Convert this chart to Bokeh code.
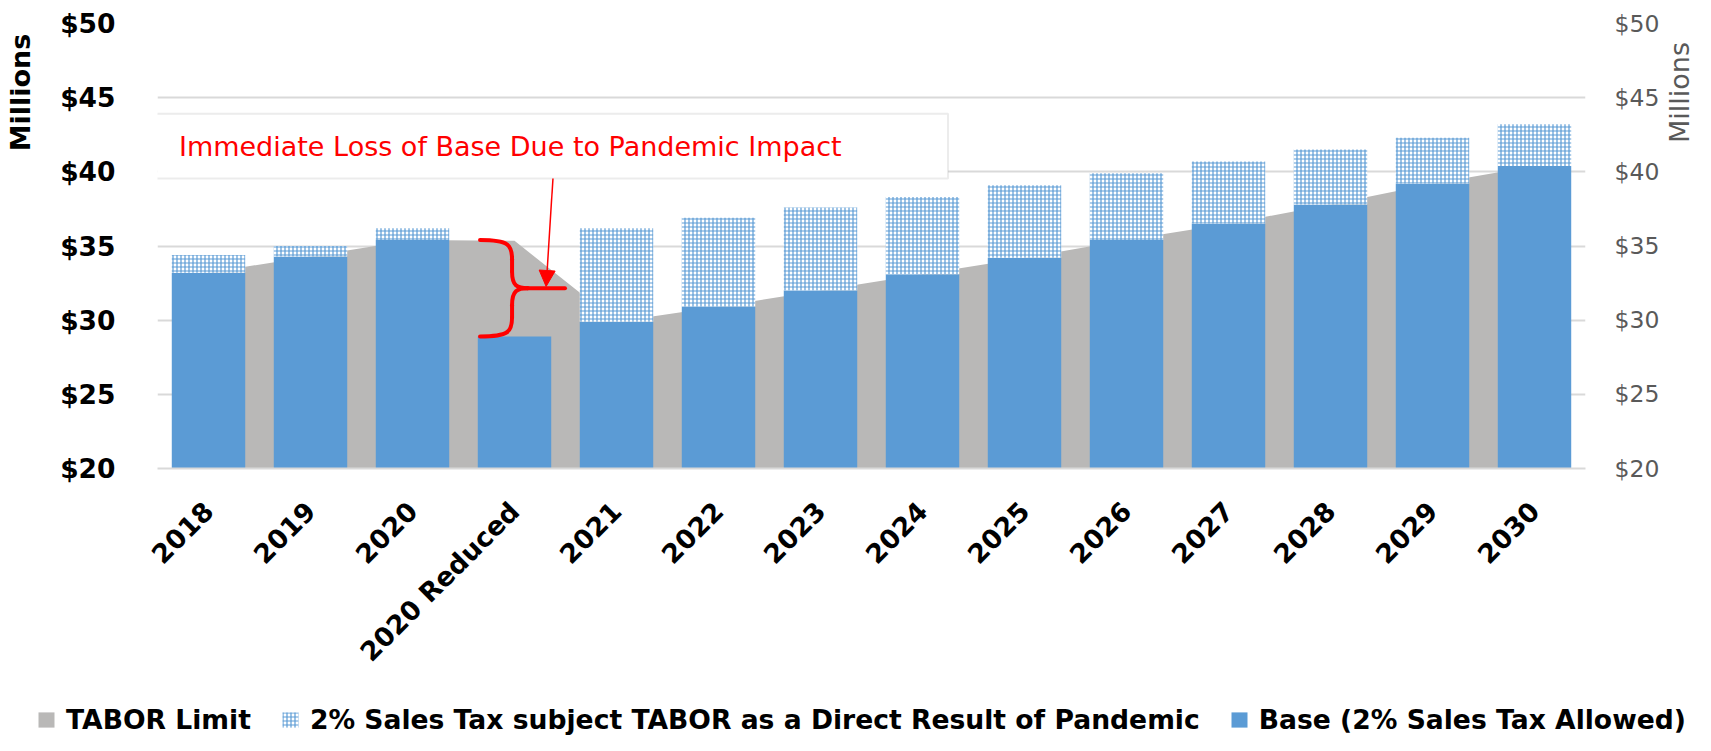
import math
from bokeh.plotting import figure
from bokeh.layouts import row
from bokeh.models import (Range1d, LinearAxis, FixedTicker, NumeralTickFormatter, Legend,
                          LegendItem, Label, BoxAnnotation, Arrow, NormalHead)
from bokeh.embed import file_html
from bokeh.resources import INLINE

# ---------------- data ----------------
categories = ["2018", "2019", "2020", "2020 Reduced", "2021", "2022", "2023", "2024",
              "2025", "2026", "2027", "2028", "2029", "2030"]
base = [33.2, 34.3, 35.4, 28.9, 29.9, 30.9, 32.0, 33.1, 34.2, 35.4, 36.5, 37.8, 39.2, 40.4]
pandemic = [1.2, 0.7, 0.8, 0.0, 6.3, 6.0, 5.6, 5.2, 4.9, 4.5, 4.2, 3.7, 3.1, 2.8]
tabor = [33.2, 34.3, 35.4, 35.35, 29.9, 30.9, 32.0, 33.1, 34.2, 35.4, 36.5, 37.8, 39.2, 40.4]
y_ticks = [20, 25, 30, 35, 40, 45, 50]
series_names = ["TABOR Limit",
                "2% Sales Tax subject TABOR as a Direct Result of Pandemic",
                "Base (2% Sales Tax Allowed)"]
annotation_text = "Immediate Loss of Base Due to Pandemic Impact"
axis_title = "Millions"

Y_MIN, Y_MAX = 20, 50
xs = list(range(len(categories)))
total = [b + q for b, q in zip(base, pandemic)]

BLUE = "#5b9bd5"
GRAY = "#b9b8b7"
GRID = "#d9d9d9"
FONT = "DejaVu Sans"
RED = "#ff0000"
NAN = float("nan")

W_LEFT, W_RIGHT, W_ALL = 38, 33, 1695
H_MAIN, H_LEG = 686, 49
BORDER_TOP, BORDER_BOTTOM = 23, H_MAIN - 468

def bare(fig):
    fig.outline_line_color = None
    fig.xgrid.visible = False
    fig.ygrid.visible = False
    return fig

p = figure(width=W_ALL - W_LEFT - W_RIGHT, height=H_MAIN, output_backend="svg",
           toolbar_location=None,
           x_range=Range1d(-0.5, len(categories) - 0.5), y_range=Range1d(Y_MIN, Y_MAX),
           min_border_left=157 - W_LEFT, min_border_right=(W_ALL - W_RIGHT) - 1588,
           min_border_top=BORDER_TOP, min_border_bottom=BORDER_BOTTOM)
p.outline_line_color = None
p.background_fill_color = "white"

area_style = dict(fill_color=GRAY)
base_style = dict(fill_color=BLUE, line_color=None)
pand_style = dict(fill_color="white", line_color=None, hatch_pattern="+", hatch_color=BLUE,
                  hatch_scale=4, hatch_weight=1.2)
p.varea(x=xs, y1=[Y_MIN] * len(xs), y2=tabor, **area_style)
p.vbar(x=xs, width=0.72, bottom=Y_MIN, top=base, **base_style)
p.vbar(x=xs, width=0.72, bottom=base, top=total, **pand_style)

# axes
ticker = FixedTicker(ticks=y_ticks)
yax = p.yaxis[0]
yax.ticker = ticker
yax.formatter = NumeralTickFormatter(format="$0")
yax.axis_line_color = None
yax.major_tick_line_color = None
yax.minor_tick_line_color = None
yax.major_tick_out = 0
yax.major_label_standoff = 42
yax.major_label_text_font = FONT
yax.major_label_text_font_style = "bold"
yax.major_label_text_font_size = "26.5px"
yax.major_label_text_color = "black"

rax = LinearAxis(ticker=ticker, formatter=NumeralTickFormatter(format="$0"))
rax.axis_line_color = None
rax.major_tick_line_color = None
rax.minor_tick_line_color = None
rax.major_tick_out = 0
rax.major_label_standoff = 29
rax.major_label_text_font = FONT
rax.major_label_text_font_size = "23.5px"
rax.major_label_text_color = "#595959"
p.add_layout(rax, "right")

xax = p.xaxis[0]
xax.ticker = FixedTicker(ticks=xs)
xax.major_label_overrides = {i: c for i, c in zip(xs, categories)}
xax.major_label_orientation = math.pi / 4
xax.axis_line_color = GRID
xax.axis_line_width = 2
xax.major_tick_line_color = None
xax.minor_tick_line_color = None
xax.major_tick_out = 0
xax.major_label_standoff = 38
xax.major_label_text_font = FONT
xax.major_label_text_font_style = "bold"
xax.major_label_text_font_size = "26.5px"
xax.major_label_text_color = "black"

p.xgrid.visible = False
p.ygrid.ticker = ticker
p.ygrid.grid_line_color = GRID
p.ygrid.grid_line_width = 2

# annotation box + text
p.add_layout(BoxAnnotation(left=-0.53, right=7.25, top=43.92, bottom=39.55, fill_color="white",
                           fill_alpha=1, line_color="#bfbfbf", line_width=2))
p.add_layout(Label(x=-0.29, y=41.73, text=annotation_text, text_align="left",
                   text_baseline="middle", text_font=FONT, text_font_size="27px",
                   text_color=RED))

# brace between 2020 base and reduced base
i_red = categories.index("2020 Reduced")
top_y = base[i_red - 1]
bot_y = base[i_red]
mid_y = (top_y + bot_y) / 2
h = top_y - mid_y
L = i_red - 0.338
S = i_red - 0.024
H = i_red + 0.13
T = i_red + 0.495
p.bezier(x0=[L, H, H, L], y0=[top_y, mid_y, mid_y, bot_y],
         x1=[S, S, S, S], y1=[top_y - 0.4 * h, mid_y + 0.35 * h, mid_y - 0.35 * h, bot_y + 0.4 * h],
         cx0=[S - 0.03, S + 0.05, S + 0.05, S - 0.03],
         cy0=[top_y, mid_y, mid_y, bot_y],
         cx1=[S, S, S, S],
         cy1=[top_y - 0.1 * h, mid_y + 0.05 * h, mid_y - 0.05 * h, bot_y + 0.1 * h],
         line_color=RED, line_width=4, line_cap="round")
p.segment(x0=[S, S, H], y0=[top_y - 0.4 * h, mid_y - 0.35 * h, mid_y],
          x1=[S, S, T], y1=[mid_y + 0.35 * h, bot_y + 0.4 * h, mid_y],
          line_color=RED, line_width=4, line_cap="round")

p.add_layout(Arrow(end=NormalHead(size=16, fill_color=RED, line_color=RED),
                   x_start=3.377, y_start=39.55, x_end=3.31, y_end=mid_y + 0.12,
                   line_color=RED, line_width=1.5))

# side strips carrying the "Millions" axis titles
def side_strip(width, x_frac, color, style):
    f = figure(width=width, height=H_MAIN, output_backend="svg", toolbar_location=None,
               x_axis_location=None, y_axis_location=None,
               x_range=Range1d(0, 1), y_range=Range1d(Y_MIN, Y_MAX),
               min_border_left=0, min_border_right=0,
               min_border_top=BORDER_TOP, min_border_bottom=BORDER_BOTTOM)
    bare(f)
    f.add_layout(Label(x=x_frac, y=45.35, text=axis_title, angle=math.pi / 2,
                       text_align="center", text_baseline="middle", text_font=FONT,
                       text_font_style=style, text_font_size="27px", text_color=color))
    return f

left_strip = side_strip(W_LEFT, 20 / W_LEFT, "black", "bold")
right_strip = side_strip(W_RIGHT, 0.5, "#595959", "normal")

# legend strip
lf = figure(width=W_ALL, height=H_LEG, output_backend="svg", toolbar_location=None,
            x_axis_location=None, y_axis_location=None,
            x_range=Range1d(0, 1), y_range=Range1d(0, 1),
            min_border_left=0, min_border_right=0, min_border_top=0, min_border_bottom=0)
bare(lf)
la = lf.varea(x=[NAN], y1=[NAN], y2=[NAN], **area_style)
lp = lf.vbar(x=[NAN], width=0.72, bottom=[NAN], top=[NAN], **pand_style)
lb = lf.vbar(x=[NAN], width=0.72, bottom=[NAN], top=[NAN], **base_style)
legend = Legend(items=[LegendItem(label=series_names[0], renderers=[la]),
                       LegendItem(label=series_names[1], renderers=[lp]),
                       LegendItem(label=series_names[2], renderers=[lb])],
                orientation="horizontal", location=(36, 0), padding=0, margin=0,
                spacing=29, glyph_width=20, glyph_height=19, label_standoff=10,
                border_line_color=None, background_fill_alpha=0,
                label_text_font=FONT, label_text_font_style="bold",
                label_text_font_size="26.6px", label_text_color="black")
lf.add_layout(legend)

main = row(left_strip, p, right_strip, spacing=0)
open("out.html", "w").write(file_html([main, lf], INLINE))
